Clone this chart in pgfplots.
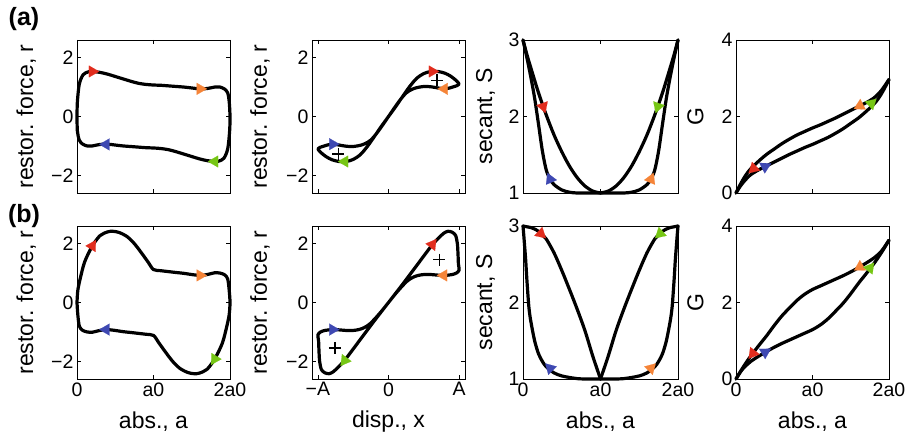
\documentclass[border=0pt]{standalone}
\usepackage{fontspec}
\setmainfont{Liberation Sans}
\usepackage{pgfplots}
\pgfplotsset{compat=1.18}
\definecolor{cR}{RGB}{225,45,30}
\definecolor{cO}{RGB}{245,132,56}
\definecolor{cG}{RGB}{118,198,20}
\definecolor{cB}{RGB}{62,72,178}
\newcommand{\fs}{\fontsize{19.5}{22}\selectfont}
\newcommand{\fl}{\fontsize{23}{26}\selectfont}
\pgfplotsset{
 panel/.style={scale only axis, width=153pt, height=153pt, clip=false,
   axis line style={line width=0.8pt, black},
   every tick/.style={line width=0.7pt, black},
   major tick length=4pt, tick align=inside,
   tick label style={font=\fs}, label style={font=\fl},
   xmin=0, xmax=2, xtick={0,1,2}},
 rowa/.style={xticklabels={}},
 rowb/.style={xticklabels={0,a0,2a0}, xlabel={abs., a}},
 xlab/.style={xlabel style={at={(axis description cs:0.5,-0.28)}, anchor=center}},
 ylab/.style={ylabel style={at={(axis description cs:#1,0.5)}, anchor=center}},
 rfor/.style={ymin=-2.6, ymax=2.6, ytick={-2,0,2}, yticklabels={−2,0,2}, ylabel={restor. force, r}},
 sec/.style={ymin=1, ymax=3, ytick={1,2,3}, yticklabels={1,2,3}, ylabel={secant, S}},
 gg/.style={ymin=0, ymax=4, ytick={0,2,4}, yticklabels={0,2,4}, ylabel={G}},
 crv/.style={black, line width=3.2pt, smooth, tension=0.5, line join=round, line cap=round},
 arr/.style 2 args={only marks, mark=triangle*, mark size=6.8pt, mark options={rotate=#2, fill=#1, draw=#1, line width=0.1pt}},
 plusm/.style={only marks, mark=+, mark size=6pt, mark options={line width=1.5pt, black}},
}
\begin{document}
\begin{tikzpicture}
\useasboundingbox (0pt,0pt) rectangle (911pt,436pt);
\node[font=\fontsize{25}{28}\selectfont\bfseries] at (24pt,417pt) {(a)};
\node[font=\fontsize{25}{28}\selectfont\bfseries] at (24pt,220pt) {(b)};

% ---------- (a) panel 1
\begin{axis}[panel, rowa, rfor, ylab=-0.331, at={(77pt,243pt)}, anchor=south west]
\addplot[crv] coordinates {(0,0) (0.005,0.5) (0.03,1.1) (0.08,1.42) (0.15,1.52) (0.2,1.53) (0.3,1.5) (0.4,1.44) (0.5,1.36) (0.6,1.28) (0.7,1.2) (0.8,1.13) (0.9,1.09) (1.0,1.07) (1.1,1.06) (1.2,1.04) (1.3,1.02) (1.4,1.0) (1.5,0.97) (1.6,0.94) (1.7,0.95) (1.8,1.0) (1.87,1.0) (1.93,0.93) (1.97,0.8) (1.99,0.5) (2.0,0) (1.995,-0.5) (1.97,-1.1) (1.92,-1.42) (1.85,-1.52) (1.8,-1.53) (1.7,-1.5) (1.6,-1.44) (1.5,-1.36) (1.4,-1.28) (1.3,-1.2) (1.2,-1.13) (1.1,-1.09) (1.0,-1.07) (0.9,-1.06) (0.8,-1.04) (0.7,-1.02) (0.6,-1.0) (0.5,-0.97) (0.4,-0.94) (0.3,-0.95) (0.2,-1.0) (0.13,-1.0) (0.07,-0.93) (0.03,-0.8) (0.005,-0.5) (0,0)};
\addplot[arr={cR}{-90}] coordinates {(0.2,1.53)};
\addplot[arr={cO}{-90}] coordinates {(1.61,0.94)};
\addplot[arr={cG}{90}] coordinates {(1.8,-1.53)};
\addplot[arr={cB}{90}] coordinates {(0.38,-0.95)};
\end{axis}

% ---------- (a) panel 2
\begin{axis}[panel, rfor, ylab=-0.34, xmin=-1.083, xmax=1.083, xtick={-1,0,1}, xticklabels={}, at={(312pt,243pt)}, anchor=south west]
\addplot[crv] coordinates {(0,0) (0.1,0.33) (0.2,0.68) (0.3,1.02) (0.4,1.3) (0.5,1.46) (0.6,1.53) (0.7,1.53) (0.8,1.47) (0.88,1.37) (0.94,1.26) (0.98,1.17) (1.0,1.1) (0.97,1.05) (0.92,1.01) (0.85,0.96) (0.79,0.94) (0.7,0.97) (0.6,1.01) (0.5,1.02) (0.4,0.98) (0.33,0.92) (0.25,0.8) (0.17,0.58) (0.08,0.28) (0,0) (-0.1,-0.33) (-0.2,-0.68) (-0.3,-1.02) (-0.4,-1.3) (-0.5,-1.46) (-0.6,-1.53) (-0.7,-1.53) (-0.8,-1.47) (-0.88,-1.37) (-0.94,-1.26) (-0.98,-1.17) (-1.0,-1.1) (-0.97,-1.05) (-0.92,-1.01) (-0.85,-0.96) (-0.79,-0.94) (-0.7,-0.97) (-0.6,-1.01) (-0.5,-1.02) (-0.4,-0.98) (-0.33,-0.92) (-0.25,-0.8) (-0.17,-0.58) (-0.08,-0.28) (0,0)};
\addplot[plusm] coordinates {(0.69,1.23) (-0.71,-1.28)};
\addplot[arr={cR}{-90}] coordinates {(0.62,1.53)};
\addplot[arr={cO}{90}] coordinates {(0.79,0.94)};
\addplot[arr={cG}{90}] coordinates {(-0.62,-1.53)};
\addplot[arr={cB}{-90}] coordinates {(-0.79,-0.94)};
\end{axis}

% ---------- (a) panel 3
\begin{axis}[panel, rowa, sec, ylab=-0.242, width=155pt, at={(523pt,243pt)}, anchor=south west]
\addplot[crv] coordinates {(0,3) (0.05,2.81) (0.1,2.64) (0.2,2.31) (0.3,2.02) (0.4,1.76) (0.5,1.54) (0.6,1.35) (0.7,1.2) (0.8,1.09) (0.9,1.025) (1,1)};
\addplot[crv] coordinates {(2,3) (1.95,2.81) (1.9,2.64) (1.8,2.31) (1.7,2.02) (1.6,1.76) (1.5,1.54) (1.4,1.35) (1.3,1.2) (1.2,1.09) (1.1,1.025) (1,1)};
\addplot[crv] coordinates {(0,3) (0.05,2.77) (0.1,2.52) (0.15,2.24) (0.2,1.9) (0.25,1.55) (0.3,1.3) (0.35,1.18) (0.4,1.11) (0.5,1.04) (0.6,1.01) (0.7,1.0) (0.85,1.0) (1,1)};
\addplot[crv] coordinates {(2,3) (1.95,2.77) (1.9,2.52) (1.85,2.24) (1.8,1.9) (1.75,1.55) (1.7,1.3) (1.65,1.18) (1.6,1.11) (1.5,1.04) (1.4,1.01) (1.3,1.0) (1.15,1.0) (1,1)};
\addplot[arr={cR}{-161}] coordinates {(0.26,2.13)};
\addplot[arr={cG}{161}] coordinates {(1.74,2.13)};
\addplot[arr={cB}{23}] coordinates {(0.35,1.18)};
\addplot[arr={cO}{-23}] coordinates {(1.65,1.18)};
\end{axis}

% ---------- (a) panel 4
\begin{axis}[panel, rowa, gg, ylab=-0.265, at={(736pt,243pt)}, anchor=south west]
\addplot[crv] coordinates {(0,0) (0.05,0.2) (0.1,0.38) (0.15,0.53) (0.2,0.65) (0.3,0.84) (0.4,1.01) (0.5,1.15) (0.6,1.29) (0.7,1.41) (0.8,1.52) (0.9,1.61) (1.0,1.70) (1.1,1.78) (1.2,1.87) (1.3,1.96) (1.4,2.06) (1.5,2.16) (1.6,2.26) (1.7,2.36) (1.8,2.48) (1.9,2.68) (2.0,2.97)};
\addplot[crv] coordinates {(0,0) (0.05,0.16) (0.1,0.29) (0.15,0.40) (0.2,0.49) (0.3,0.61) (0.4,0.71) (0.5,0.81) (0.6,0.91) (0.7,1.01) (0.8,1.10) (0.9,1.19) (1.0,1.27) (1.1,1.36) (1.2,1.45) (1.3,1.56) (1.4,1.68) (1.5,1.82) (1.6,1.96) (1.7,2.13) (1.8,2.32) (1.85,2.44) (1.9,2.59) (1.95,2.77) (2.0,2.97)};
\addplot[arr={cR}{133}] coordinates {(0.23,0.64)};
\addplot[arr={cB}{-63}] coordinates {(0.38,0.69)};
\addplot[arr={cO}{117}] coordinates {(1.62,2.28)};
\addplot[arr={cG}{-47}] coordinates {(1.77,2.34)};
\end{axis}

% ---------- (b) panel 1
\begin{axis}[panel, rowb, xlab, rfor, ylab=-0.331, at={(77pt,57pt)}, anchor=south west]
\addplot[crv] coordinates {(0,0) (0.01,0.4) (0.04,0.79) (0.1,1.38) (0.2,1.92) (0.3,2.27) (0.4,2.4) (0.47,2.42) (0.55,2.38) (0.65,2.25) (0.75,2.0) (0.85,1.66) (0.93,1.37) (1.0,1.12) (1.1,1.08) (1.26,1.03) (1.4,0.99) (1.5,0.95) (1.62,0.92) (1.72,0.96) (1.8,1.01) (1.87,1.0) (1.93,0.94) (1.97,0.8) (1.99,0.4) (2.0,0) (1.99,-0.4) (1.96,-0.79) (1.9,-1.38) (1.8,-1.92) (1.7,-2.27) (1.6,-2.4) (1.53,-2.42) (1.45,-2.38) (1.35,-2.25) (1.25,-2.0) (1.15,-1.66) (1.07,-1.37) (1.0,-1.12) (0.9,-1.08) (0.74,-1.03) (0.6,-0.99) (0.5,-0.95) (0.38,-0.92) (0.28,-0.96) (0.2,-1.01) (0.13,-1.0) (0.07,-0.94) (0.03,-0.8) (0.01,-0.4) (0,0)};
\addplot[arr={cR}{-31}] coordinates {(0.2,1.92)};
\addplot[arr={cO}{-90}] coordinates {(1.61,0.92)};
\addplot[arr={cG}{149}] coordinates {(1.8,-1.92)};
\addplot[arr={cB}{90}] coordinates {(0.38,-0.92)};
\end{axis}

% ---------- (b) panel 2
\begin{axis}[panel, xlab, rfor, ylab=-0.34, xmin=-1.083, xmax=1.083, xtick={-1,0,1}, xticklabels={−A,0,A}, xlabel={disp., x}, at={(312pt,57pt)}, anchor=south west]
\addplot[crv] coordinates {(0,0) (0.2,0.62) (0.4,1.26) (0.6,1.9) (0.7,2.17) (0.78,2.35) (0.84,2.42) (0.9,2.39) (0.95,2.28) (0.975,2.0) (0.985,1.6) (0.99,1.3) (1.0,1.1) (0.96,1.0) (0.9,0.95) (0.8,0.92) (0.7,0.93) (0.6,0.95) (0.5,0.95) (0.42,0.92) (0.35,0.86) (0.27,0.74) (0.18,0.52) (0.09,0.27) (0,0) (-0.2,-0.62) (-0.4,-1.26) (-0.6,-1.9) (-0.7,-2.17) (-0.78,-2.35) (-0.84,-2.42) (-0.9,-2.39) (-0.95,-2.28) (-0.975,-2.0) (-0.985,-1.6) (-0.99,-1.3) (-1.0,-1.1) (-0.96,-1.0) (-0.9,-0.95) (-0.8,-0.92) (-0.7,-0.93) (-0.6,-0.95) (-0.5,-0.95) (-0.42,-0.92) (-0.35,-0.86) (-0.27,-0.74) (-0.18,-0.52) (-0.09,-0.27) (0,0)};
\addplot[plusm] coordinates {(0.72,1.46) (-0.76,-1.54)};
\addplot[arr={cR}{-37}] coordinates {(0.62,1.97)};
\addplot[arr={cO}{90}] coordinates {(0.78,0.92)};
\addplot[arr={cG}{143}] coordinates {(-0.62,-1.97)};
\addplot[arr={cB}{-90}] coordinates {(-0.79,-0.92)};
\end{axis}

% ---------- (b) panel 3
\begin{axis}[panel, rowb, xlab, sec, ylab=-0.242, width=155pt, at={(523pt,57pt)}, anchor=south west]
\addplot[crv] coordinates {(0,3) (0.05,2.99) (0.1,2.98) (0.15,2.96) (0.2,2.93) (0.25,2.88) (0.3,2.83) (0.4,2.65) (0.5,2.42) (0.6,2.17) (0.7,1.91) (0.8,1.63) (0.9,1.3) (1,1)};
\addplot[crv] coordinates {(2,3) (1.95,2.99) (1.9,2.98) (1.85,2.96) (1.8,2.93) (1.75,2.88) (1.7,2.83) (1.6,2.65) (1.5,2.42) (1.4,2.17) (1.3,1.91) (1.2,1.63) (1.1,1.3) (1,1)};
\addplot[crv] coordinates {(0,3) (0.01,2.88) (0.02,2.75) (0.035,2.55) (0.05,2.3) (0.075,1.95) (0.1,1.76) (0.15,1.5) (0.2,1.33) (0.25,1.23) (0.3,1.16) (0.4,1.08) (0.5,1.04) (0.6,1.02) (0.7,1.005) (0.8,1.0) (1,1)};
\addplot[crv] coordinates {(2,3) (1.99,2.88) (1.98,2.75) (1.965,2.55) (1.95,2.3) (1.925,1.95) (1.9,1.76) (1.85,1.5) (1.8,1.33) (1.75,1.23) (1.7,1.16) (1.6,1.08) (1.5,1.04) (1.4,1.02) (1.3,1.005) (1.2,1.0) (1,1)};
\addplot[arr={cR}{-132}] coordinates {(0.23,2.9)};
\addplot[arr={cG}{132}] coordinates {(1.77,2.9)};
\addplot[arr={cB}{45}] coordinates {(0.35,1.14)};
\addplot[arr={cO}{-45}] coordinates {(1.65,1.14)};
\end{axis}

% ---------- (b) panel 4
\begin{axis}[panel, rowb, xlab, gg, ylab=-0.265, at={(736pt,57pt)}, anchor=south west]
\addplot[crv] coordinates {(0,0) (0.05,0.17) (0.1,0.33) (0.15,0.48) (0.2,0.62) (0.3,0.88) (0.4,1.13) (0.5,1.40) (0.6,1.65) (0.7,1.86) (0.8,2.06) (0.9,2.22) (1.0,2.34) (1.1,2.43) (1.2,2.52) (1.3,2.61) (1.4,2.70) (1.5,2.80) (1.6,2.91) (1.7,3.03) (1.8,3.16) (1.9,3.34) (2.0,3.63)};
\addplot[crv] coordinates {(0,0) (0.05,0.16) (0.1,0.29) (0.2,0.47) (0.3,0.60) (0.4,0.72) (0.5,0.83) (0.6,0.93) (0.7,1.02) (0.8,1.11) (0.9,1.20) (1.0,1.29) (1.1,1.41) (1.2,1.57) (1.3,1.77) (1.4,1.98) (1.5,2.23) (1.6,2.50) (1.7,2.75) (1.8,3.01) (1.85,3.15) (1.9,3.30) (1.95,3.46) (2.0,3.63)};
\addplot[arr={cR}{142}] coordinates {(0.22,0.67)};
\addplot[arr={cB}{-59}] coordinates {(0.38,0.70)};
\addplot[arr={cO}{121}] coordinates {(1.62,2.93)};
\addplot[arr={cG}{-38}] coordinates {(1.75,2.90)};
\end{axis}
\end{tikzpicture}
\end{document}
